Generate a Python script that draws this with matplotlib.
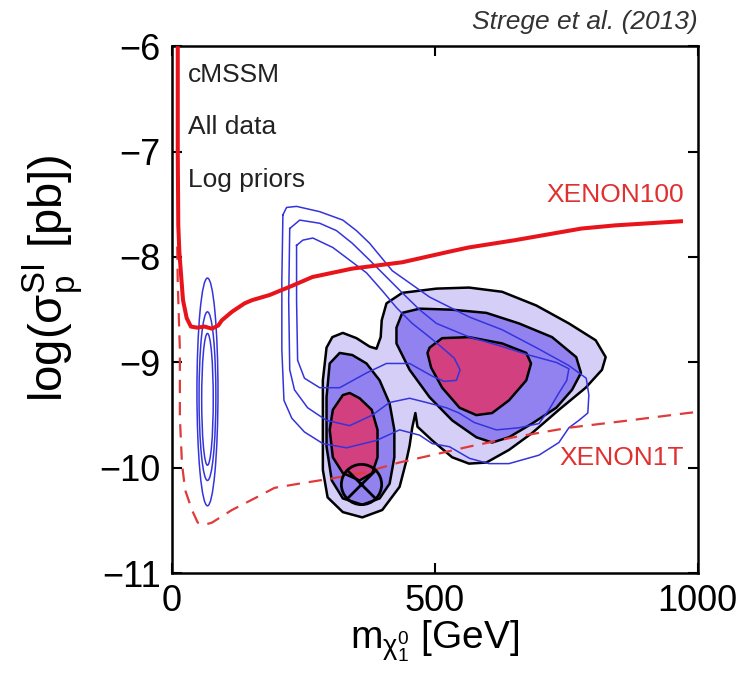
import matplotlib
matplotlib.use("Agg")
import matplotlib.pyplot as plt
from matplotlib.patches import Ellipse

plt.rcParams['font.family'] = ['Liberation Sans', 'DejaVu Sans']
plt.rcParams['mathtext.fontset'] = 'custom'
plt.rcParams['mathtext.rm'] = 'Liberation Sans'
plt.rcParams['mathtext.it'] = 'Liberation Sans:italic'
plt.rcParams['mathtext.sf'] = 'Liberation Sans'
plt.rcParams['mathtext.bf'] = 'Liberation Sans:bold'

# ---------------- data ----------------
# XENON100 limit (solid red)
xenon100_x = [11, 11, 12, 14, 17, 21, 28, 36, 48, 62, 76, 88, 95, 114, 138, 152, 186, 230,
              267, 343, 438, 527, 564, 653, 779, 843, 972]
xenon100_y = [-6.0, -7.0, -7.7, -7.95, -8.15, -8.41, -8.58, -8.66, -8.67, -8.66, -8.68, -8.65,
              -8.60, -8.52, -8.44, -8.41, -8.36, -8.27, -8.19, -8.11, -8.05, -7.95, -7.91,
              -7.84, -7.73, -7.70, -7.66]

# XENON1T projected sensitivity (dashed red)
xenon1t_x = [10, 11, 15, 15, 19, 25, 38, 49, 62, 76, 114, 157, 195, 242, 305, 369, 432, 494,
             564, 650, 754, 870, 981, 1000]
xenon1t_y = [-7.9, -8.25, -8.88, -9.52, -9.96, -10.21, -10.40, -10.52, -10.54, -10.52, -10.40,
             -10.29, -10.19, -10.15, -10.10, -10.04, -9.95, -9.88, -9.80, -9.71, -9.62, -9.55,
             -9.48, -9.47]

# filled credible regions (posterior): outer (95%), middle (68%), inner
outer_x = [305, 325, 351, 376, 389, 397, 399, 408, 438, 503, 565, 628, 693, 755, 806, 825, 818,
           787, 736, 685, 641, 598, 565, 533, 495, 467, 463, 457, 452, 446, 433, 400, 362, 325,
           296, 287, 287, 287, 294]
outer_y = [-8.76, -8.72, -8.77, -8.85, -8.87, -8.76, -8.60, -8.44, -8.34, -8.30, -8.29, -8.33,
           -8.46, -8.63, -8.79, -8.95, -9.07, -9.24, -9.45, -9.67, -9.83, -9.95, -9.96, -9.90,
           -9.74, -9.61, -9.48, -9.62, -9.79, -9.93, -10.18, -10.40, -10.47, -10.42, -10.28,
           -10.02, -9.64, -9.17, -8.86]

mid_left_x = [319, 300, 294, 294, 304, 325, 362, 395, 414, 423, 423, 414, 395, 370, 343]
mid_left_y = [-8.91, -9.01, -9.33, -9.80, -10.12, -10.29, -10.35, -10.29, -10.15, -9.90, -9.64,
              -9.39, -9.17, -9.01, -8.93]
mid_right_x = [438, 471, 533, 598, 660, 723, 769, 778, 761, 731, 685, 641, 609, 579, 533, 490,
               452, 427, 427]
mid_right_y = [-8.53, -8.49, -8.50, -8.53, -8.63, -8.76, -8.95, -9.10, -9.26, -9.43, -9.58,
               -9.71, -9.76, -9.71, -9.55, -9.33, -9.07, -8.82, -8.67]

in_left_x = [325, 306, 300, 306, 325, 357, 381, 391, 391, 380, 357, 338]
in_left_y = [-9.31, -9.45, -9.64, -9.90, -10.05, -10.12, -10.05, -9.90, -9.64, -9.45, -9.34,
             -9.29]
in_right_x = [490, 514, 565, 628, 674, 683, 674, 641, 609, 579, 547, 514, 493, 486]
in_right_y = [-8.86, -8.77, -8.76, -8.82, -8.91, -9.01, -9.17, -9.36, -9.48, -9.50, -9.43,
              -9.24, -9.05, -8.91]

# unfilled blue contours (comparison)
blue_outer_x = [211, 218, 237, 281, 325, 351, 376, 419, 490, 566, 628, 693, 755, 788, 793, 791,
                774, 755, 736, 698, 641, 603, 566, 528, 495, 471, 433, 389, 332, 287, 252, 228,
                213, 209, 209, 211]
blue_outer_y = [-7.60, -7.53, -7.52, -7.57, -7.65, -7.75, -7.87, -8.13, -8.38, -8.57, -8.69,
                -8.86, -9.03, -9.15, -9.31, -9.48, -9.55, -9.62, -9.76, -9.88, -9.96, -9.96,
                -9.91, -9.80, -9.77, -9.69, -9.64, -9.74, -9.81, -9.77, -9.66, -9.53, -9.36,
                -8.88, -8.22, -7.60]
blue_mid_x = [224, 243, 281, 313, 343, 376, 408, 438, 471, 503, 566, 622, 679, 731, 755, 751, 736,
              717, 698, 660, 617, 575, 546, 522, 484, 452, 414, 381, 338, 294, 258, 233, 224,
              222, 224]
blue_mid_y = [-7.73, -7.65, -7.68, -7.75, -7.87, -8.03, -8.19, -8.34, -8.50, -8.63, -8.76, -8.84,
              -8.93, -9.00, -9.06, -9.17, -9.29, -9.45, -9.58, -9.62, -9.64, -9.57, -9.48, -9.43,
              -9.38, -9.34, -9.38, -9.50, -9.60, -9.55, -9.43, -9.26, -9.07, -8.41, -7.73]
blue_in_x = [237, 249, 268, 306, 338, 370, 400, 427, 457, 490, 514, 537, 548, 541, 518, 495, 452,
             408, 370, 319, 281, 252, 239, 237, 237]
blue_in_y = [-7.89, -7.84, -7.82, -7.91, -8.03, -8.15, -8.32, -8.48, -8.63, -8.76, -8.86, -8.96,
             -9.07, -9.17, -9.18, -9.13, -9.01, -9.01, -9.10, -9.24, -9.24, -9.15, -8.98, -8.41,
             -7.89]

# small blue islands near m ~ 67 GeV: centre x, centre y, full width, full height
island_cx = [67.5, 67.5, 67.5]
island_cy = [-9.28, -9.32, -9.35]
island_w = [40, 32, 22]
island_h = [2.16, 1.60, 1.25]

# best-fit point
bestfit_x = [360]
bestfit_y = [-10.15]

x_ticks = [0, 500, 1000]
y_ticks = [-11, -10, -9, -8, -7, -6]

# ---------------- figure ----------------
fig = plt.figure(figsize=(7.51, 6.89), dpi=100)
ax = fig.add_axes([0.229, 0.168, 0.700, 0.765])

c_light = '#d5cff8'
c_mid = '#9282f0'
c_in = '#d2407f'
edge_lw = 1.8

fill_kw = dict(edgecolor='black', lw=edge_lw, joinstyle='round')
ax.fill(outer_x, outer_y, facecolor=c_light, zorder=2, **fill_kw)
ax.fill(mid_left_x, mid_left_y, facecolor=c_mid, zorder=3, **fill_kw)
ax.fill(mid_right_x, mid_right_y, facecolor=c_mid, zorder=3, **fill_kw)
ax.fill(in_left_x, in_left_y, facecolor=c_in, zorder=4, **fill_kw)
ax.fill(in_right_x, in_right_y, facecolor=c_in, zorder=4, **fill_kw)

blue = '#3434dc'
for bx, by in [(blue_outer_x, blue_outer_y), (blue_mid_x, blue_mid_y), (blue_in_x, blue_in_y)]:
    ax.plot(bx, by, color=blue, lw=1.1, zorder=5, solid_joinstyle='round')
for cx, cy, w, h in zip(island_cx, island_cy, island_w, island_h):
    ax.add_patch(Ellipse((cx, cy), w, h, facecolor='none', edgecolor=blue, lw=1.1, zorder=5))

ax.plot(xenon1t_x, xenon1t_y, color='#e03a3a', lw=1.6, ls=(0, (6, 4)), zorder=6)
ax.plot(xenon100_x, xenon100_y, color='#e8141c', lw=2.9, zorder=7, solid_capstyle='butt',
        solid_joinstyle='round')

ax.plot(bestfit_x, bestfit_y, 'o', ms=29, mfc='none', mec='black', mew=2.0, zorder=8)
ax.plot(bestfit_x, bestfit_y, 'x', ms=20, mec='black', mew=2.0, zorder=8)

ax.set_xlim(0, 1000)
ax.set_ylim(-11, -6)
ax.set_xticks(x_ticks)
ax.set_yticks(y_ticks)
ax.set_xticklabels([str(v) for v in x_ticks])
ax.set_yticklabels(['\u2212' + str(-v) for v in y_ticks])
ax.tick_params(direction='in', length=7, width=1.5, top=True, right=True,
               labelsize=26, pad=8)
for s in ax.spines.values():
    s.set_linewidth(1.8)

ax.set_xlabel(r'm$_{\mathrm{\chi}_1^0}$ [GeV]', fontsize=28)
ax.xaxis.set_label_coords(0.5, -0.085)
ax.set_ylabel(r'log($\mathrm{\sigma}_{\mathrm{p}}^{\mathrm{SI}}$ [pb])', fontsize=34)
ax.yaxis.set_label_coords(-0.165, 0.56)

txt_kw = dict(fontsize=19, color='#222222', va='center', ha='left')
ax.text(30, -6.27, 'cMSSM', **txt_kw)
ax.text(30, -6.77, 'All data', **txt_kw)
ax.text(30, -7.27, 'Log priors', **txt_kw)

ax.text(974, -7.41, 'XENON100', fontsize=19, color='#e03030', ha='right', va='center')
ax.text(974, -9.91, 'XENON1T', fontsize=19, color='#e03030', ha='right', va='center')

fig.text(0.929, 0.968, 'Strege et al. (2013)', fontsize=19, style='italic',
         color='#333333', ha='right', va='center')

fig.savefig('out.png', dpi=100)
